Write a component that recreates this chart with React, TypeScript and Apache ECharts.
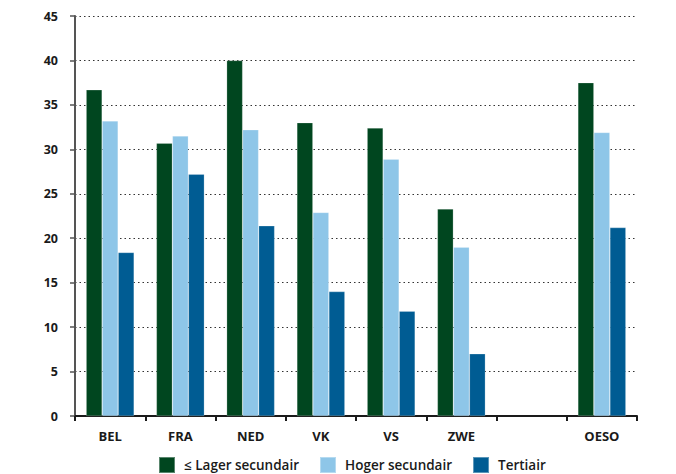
import React, { useEffect, useRef } from "react";
import * as echarts from "echarts";

const categories = ["BEL", "FRA", "NED", "VK", "VS", "ZWE", "", "OESO"];
const lagerSecundair = [36.7, 30.7, 40.0, 33.0, 32.4, 23.3, null, 37.5];
const hogerSecundair = [33.2, 31.5, 32.2, 22.9, 28.9, 19.0, null, 31.9];
const tertiair = [18.4, 27.2, 21.4, 14.0, 11.8, 7.0, null, 21.2];
const seriesNames = ["≤ Lager secundair", "Hoger secundair", "Tertiair"];
const colors = ["#00461F", "#8EC6E8", "#005C93"];

const FONT = "'Open Sans', 'DejaVu Sans', sans-serif";

export default function App() {
  const ref = useRef<HTMLDivElement>(null);
  useEffect(() => {
    document.body.style.margin = "0";
    if (!ref.current) return;
    const chart = echarts.init(ref.current, null, { renderer: "svg" });
    const dataSets = [lagerSecundair, hogerSecundair, tertiair];
    chart.setOption({
      animation: false,
      color: colors,
      grid: { left: 75, right: 39, top: 16, bottom: 58 },
      legend: {
        data: seriesNames,
        left: 158,
        top: 456,
        padding: 0,
        itemWidth: 16,
        itemHeight: 16,
        itemGap: 20,
        icon: "rect",
        textStyle: {
          fontFamily: FONT,
          fontSize: 13.5,
          fontWeight: 600,
          color: "#1a1a1a",
          padding: [0, 0, 0, 4],
        },
      },
      xAxis: {
        type: "category",
        data: categories,
        axisLine: { lineStyle: { color: "#1a1a1a", width: 2 } },
        axisTick: { show: true, length: 5, interval: 0, lineStyle: { color: "#1a1a1a", width: 2 } },
        axisLabel: {
          interval: 0,
          margin: 13,
          fontFamily: FONT,
          fontSize: 13,
          fontWeight: 700,
          color: "#1a1a1a",
        },
      },
      yAxis: {
        type: "value",
        min: 0,
        max: 45,
        interval: 5,
        axisLine: { show: true, lineStyle: { color: "#555", width: 2 } },
        axisTick: { show: true, length: 5, lineStyle: { color: "#555", width: 1.5 } },
        axisLabel: {
          margin: 17,
          fontFamily: FONT,
          fontSize: 12.5,
          fontWeight: 700,
          color: "#1a1a1a",
        },
        splitLine: {
          show: true,
          lineStyle: { color: "#333", type: [1.5, 3], width: 1.2 },
        },
      },
      series: dataSets.map((d, i) => ({
        name: seriesNames[i],
        type: "bar",
        data: d,
        barWidth: 16,
        barGap: "0%",
        itemStyle: { color: colors[i], borderColor: "rgba(255,255,255,0.35)", borderWidth: 0.6 },
      })),
    });
    return () => chart.dispose();
  }, []);
  return <div ref={ref} style={{ width: 676, height: 474 }} />;
}
